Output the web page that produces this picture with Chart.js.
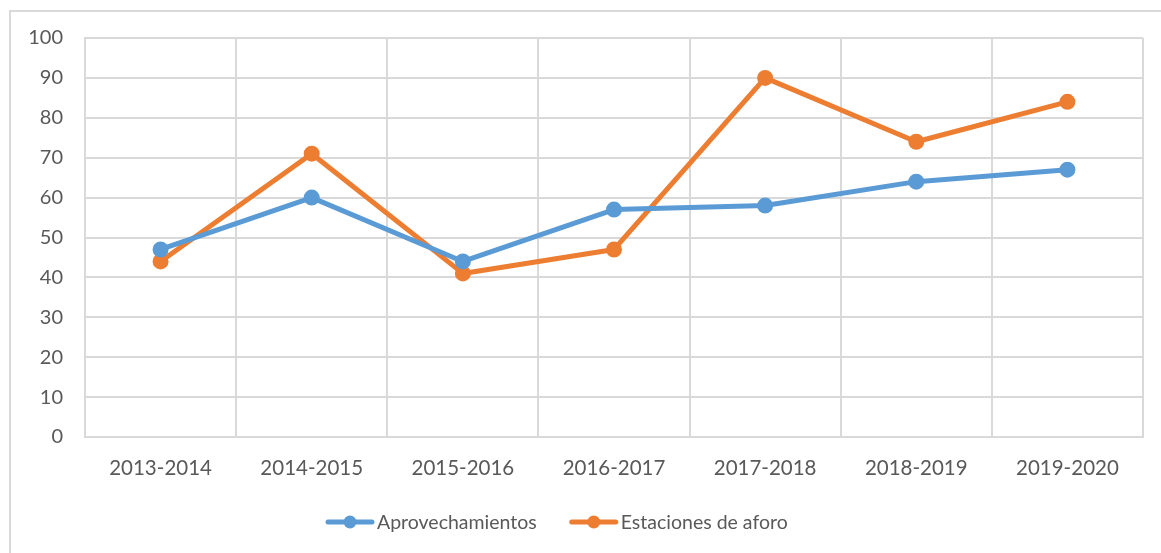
<!DOCTYPE html>
<html><head><meta charset="utf-8">
<script src="https://cdn.jsdelivr.net/npm/chart.js@4/dist/chart.umd.min.js"></script>
<style>
html,body{margin:0;padding:0;background:#fff;overflow:hidden}
#wrap{position:relative;width:1161px;height:553px}
#frame{position:absolute;left:9px;top:10px;width:1200px;height:600px;border:2px solid #d9d9d9;box-sizing:border-box;pointer-events:none}
canvas{position:absolute;left:0;top:0}
</style></head><body>
<div id="wrap"><canvas id="c" width="1161" height="553"></canvas><div id="frame"></div></div>
<script>
const categories = ['2013-2014','2014-2015','2015-2016','2016-2017','2017-2018','2018-2019','2019-2020'];
const aprovechamientos = [47, 60, 44, 57, 58, 64, 67];
const estacionesAforo = [44, 71, 41, 47, 90, 74, 84];
const seriesNames = ['Aprovechamientos','Estaciones de aforo'];
const colors = ['#5B9BD5','#ED7D31'];
const FONT = 'Lato, "Open Sans", sans-serif';

const customLegend = {
  id:'customLegend',
  afterDraw(chart){
    const ctx = chart.ctx;
    const cy = 522;
    let x = 326;
    ctx.save();
    ctx.font = '19.5px ' + FONT;
    ctx.textBaseline = 'middle';
    ctx.textAlign = 'left';
    chart.data.datasets.forEach(ds=>{
      const col = ds.borderColor;
      ctx.strokeStyle = col; ctx.lineWidth = 5; ctx.lineCap = 'round';
      ctx.beginPath(); ctx.moveTo(x+2, cy); ctx.lineTo(x+46, cy); ctx.stroke();
      ctx.fillStyle = col; ctx.beginPath(); ctx.arc(x+24, cy, 6.5, 0, Math.PI*2); ctx.fill();
      ctx.fillStyle = '#595959';
      const tx = x + 51;
      ctx.fillText(ds.label, tx, cy+1);
      x = tx + ctx.measureText(ds.label).width + 33;
    });
    ctx.restore();
  }
};

new Chart(document.getElementById('c'), {
  type:'line',
  data:{
    labels:categories,
    datasets:[
      {label:seriesNames[0], data:aprovechamientos, borderColor:colors[0], backgroundColor:colors[0], borderWidth:5, pointRadius:7, pointBorderWidth:2, pointBackgroundColor:colors[0], pointBorderColor:colors[0], tension:0, borderCapStyle:'round', borderJoinStyle:'round'},
      {label:seriesNames[1], data:estacionesAforo, borderColor:colors[1], backgroundColor:colors[1], borderWidth:5, pointRadius:7, pointBorderWidth:2, pointBackgroundColor:colors[1], pointBorderColor:colors[1], tension:0, borderCapStyle:'round', borderJoinStyle:'round'}
    ]
  },
  options:{
    responsive:false, animation:false, devicePixelRatio:1,
    layout:{padding:{top:38,right:18,left:0,bottom:66}},
    plugins:{
      tooltip:{enabled:false},
      legend:{display:false}
    },
    scales:{
      x:{offset:true, grid:{offset:true, color:'#d9d9d9', lineWidth:2, drawTicks:false}, border:{color:'#d9d9d9', width:2},
         ticks:{color:'#595959', font:{family:FONT,size:20.5}, padding:19, maxRotation:0},
         afterFit(s){ s.height = 50; }},
      y:{min:0,max:100, grid:{color:'#d9d9d9', lineWidth:2, drawTicks:false}, border:{color:'#d9d9d9', width:2},
         ticks:{stepSize:10, color:'#595959', font:{family:FONT,size:20}, padding:22},
         afterFit(s){ s.width = 85; }}
    }
  },
  plugins:[customLegend]
});
</script>
</body></html>
